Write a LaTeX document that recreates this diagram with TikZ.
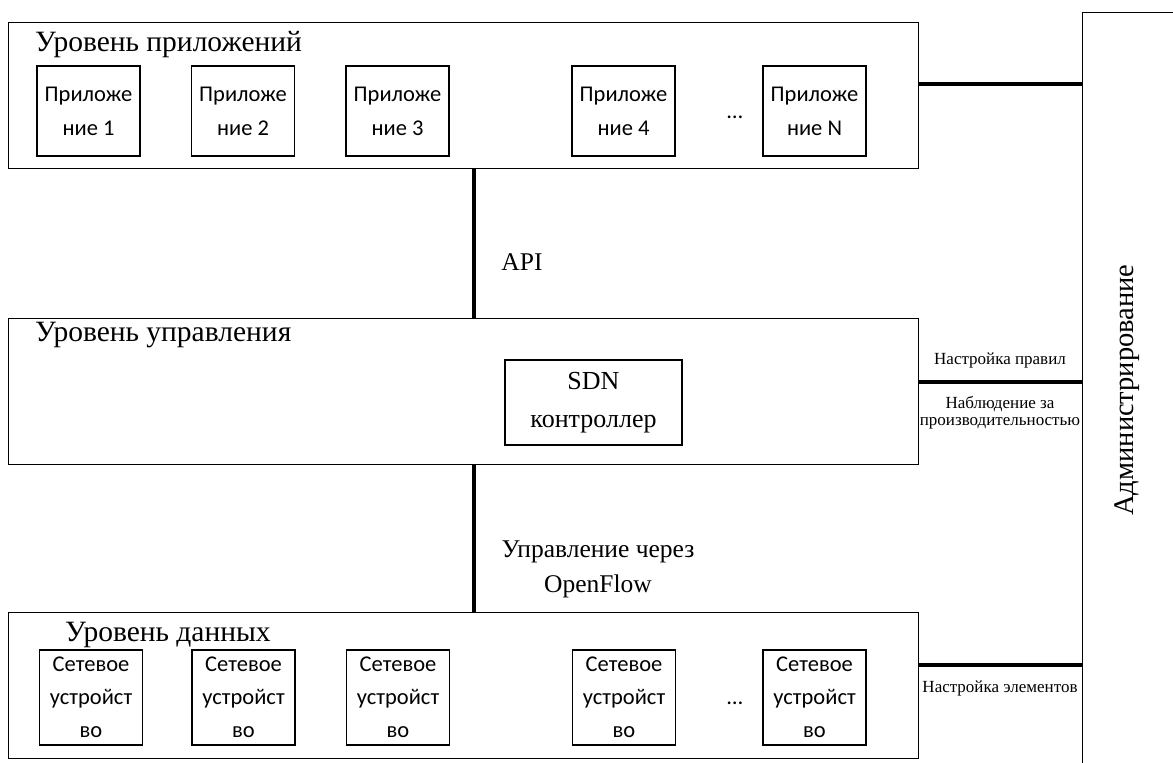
\documentclass[tikz,border=0pt]{standalone}
\usepackage{fontspec}
\setmainfont{Liberation Serif}
\newfontfamily\calibfont{Carlito}
\begin{document}
\begin{tikzpicture}[x=1pt,y=-1pt,
  layer/.style={draw, line width=1.2pt, anchor=north west, minimum width=910pt, minimum height=146pt, inner sep=0pt},
  appbox/.style={draw, line width=1.2pt, minimum width=103pt, minimum height=90pt, inner sep=0pt, align=center, font=\calibfont\fontsize{22.5}{34}\selectfont},
  devbox/.style={draw, line width=1.2pt, minimum width=103pt, minimum height=95pt, inner sep=0pt, align=center, font=\calibfont\fontsize{22.5}{33}\selectfont},
  title/.style={anchor=west, inner sep=0pt, font=\fontsize{29.5}{34}\selectfont},
  biglabel/.style={inner sep=0pt, align=center, font=\fontsize{25.5}{35}\selectfont},
  small/.style={inner sep=0pt, align=center, font=\fontsize{17}{17}\selectfont},
  conn/.style={line width=4.5pt},
  dots/.style={inner sep=0pt, font=\calibfont\fontsize{22.5}{25}\selectfont}]
\useasboundingbox (0,0) rectangle (1173,763);

% admin box (extends beyond the page on the right and bottom)
\node (adm) [draw, line width=1.2pt, anchor=north west, minimum width=140pt, minimum height=800pt, inner sep=0pt] at (1082,12) {};
\node (admtext) [rotate=90, inner sep=0pt, font=\fontsize{28.5}{32}\selectfont] at (1127,390) {Администрирование};

% layers
\node (appL) [layer] at (8,22) {};
\node (ctrlL) [layer] at (8,318) {};
\node (dataL) [layer] at (8,612) {};

\node (appT) [title] at (35,45) {Уровень приложений};
\node (ctrlT) [title] at (35,335) {Уровень управления};
\node (dataT) [title] at (65,635) {Уровень данных};

% applications
\node (a1) [appbox] at (88.5,111) {Приложе\\ние 1};
\node (a2) [appbox] at (243,111) {Приложе\\ние 2};
\node (a3) [appbox] at (397.5,111) {Приложе\\ние 3};
\node (a4) [appbox] at (623.5,111) {Приложе\\ние 4};
\node (aN) [appbox] at (814.5,111) {Приложе\\ние N};
\node (adots) [dots] at (735,117) {…};

% SDN controller
\node (sdn) [draw, line width=1.2pt, minimum width=177pt, minimum height=85pt, inner sep=0pt, align=center, font=\fontsize{26}{38}\selectfont] at (593.5,402.5) {SDN\\контроллер};

% devices
\node (d1) [devbox] at (91,697.5) {Сетевое\\устройст\\во};
\node (d2) [devbox] at (243.5,697.5) {Сетевое\\устройст\\во};
\node (d3) [devbox] at (398,697.5) {Сетевое\\устройст\\во};
\node (d4) [devbox] at (624,697.5) {Сетевое\\устройст\\во};
\node (dN) [devbox] at (814.5,697.5) {Сетевое\\устройст\\во};
\node (ddots) [dots] at (735,703) {…};

% vertical connectors
\coordinate (vx) at (474,0);
\draw[conn] (appL.south -| vx) -- (ctrlL.north -| vx);
\draw[conn] (ctrlL.south -| vx) -- (dataL.north -| vx);
\node (api) [biglabel] at (522,262) {API};
\node (of) [biglabel] at (598,569) {Управление через\\OpenFlow};

% horizontal connectors to administration
\coordinate (ya) at (0,84);
\coordinate (yc) at (0,382);
\coordinate (yd) at (0,665);
\draw[conn] (appL.east |- ya) -- (adm.west |- ya);
\draw[conn] (ctrlL.east |- yc) -- (adm.west |- yc);
\draw[conn] (dataL.east |- yd) -- (adm.west |- yd);

\node (l1) [small] at (1000,360) {Настройка правил};
\node (l2) [small] at (1000,413) {Наблюдение за\\производительностью};
\node (l3) [small] at (1000,688) {Настройка элементов};
\end{tikzpicture}
\end{document}
